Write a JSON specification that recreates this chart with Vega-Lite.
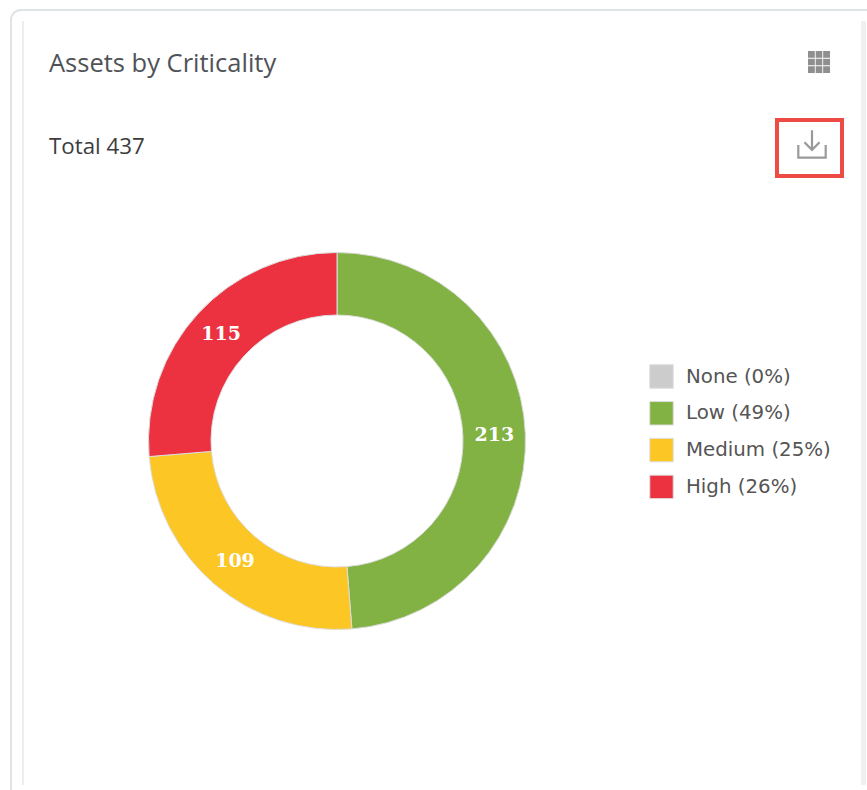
{"$schema":"https://vega.github.io/schema/vega-lite/v6.json","width":867,"height":790,"padding":0,"autosize":{"type":"none"},"background":"#ffffff","view":{"stroke":null},
"title":{"text":"Assets by Criticality","subtitle":"Total 437","anchor":"start","frame":"group","orient":"top","offset":-158,"dx":49,"font":"Open Sans","fontSize":25.5,"fontWeight":"normal","color":"#4f5358","subtitleFont":"Open Sans","subtitleFontSize":22.3,"subtitleFontWeight":"normal","subtitleColor":"#3c3c3c","subtitlePadding":58},
"data":{"values":[{"level":"None","legendLabel":"None (0%)","count":0},{"level":"Low","legendLabel":"Low (49%)","count":213},{"level":"Medium","legendLabel":"Medium (25%)","count":109},{"level":"High","legendLabel":"High (26%)","count":115}]},
"layer":[
{"data":{"values":[{"part":"card"}]},"mark":{"type":"rect","x":11,"y":10,"x2":930,"y2":850,"cornerRadius":10,"fill":"#ffffff","stroke":"#dfe4e6","strokeWidth":2},"encoding":{}},
{"data":{"values":[{"part":"inner-left"}]},"mark":{"type":"rect","x":22,"y":21,"x2":24,"y2":785,"fill":"#eeeeee"},"encoding":{}},
{"data":{"values":[{"part":"inner-right"}]},"mark":{"type":"rect","x":861,"y":21,"x2":866,"y2":785,"fill":"#f0f0f0"},"encoding":{}},
{"data":{"values":[{"part":"grid-icon"}]},"mark":{"type":"point","x":819,"y":62,"filled":true,"fill":"#8f8f8f","stroke":null,"opacity":1,"size":1936,"shape":"M-.5-.5H-.19V-.19H-.5ZM-.15-.5H.15V-.19H-.15ZM.19-.5H.5V-.19H.19ZM-.5-.15H-.19V.15H-.5ZM-.15-.15H.15V.15H-.15ZM.19-.15H.5V.15H.19ZM-.5.19H-.19V.5H-.5ZM-.15.19H.15V.5H-.15ZM.19.19H.5V.5H.19Z"},"encoding":{}},
{"data":{"values":[{"part":"download-box"}]},"mark":{"type":"rect","x":777,"y":120,"x2":842,"y2":176,"fill":"#ffffff","stroke":"#ee4b44","strokeWidth":4},"encoding":{}},
{"data":{"values":[{"part":"download-icon"}]},"mark":{"type":"point","x":812,"y":144,"filled":false,"stroke":"#9a9a9a","strokeWidth":2.2,"opacity":1,"size":3400,"shape":"M-.47 .03V.47H.47V.03M0-.47V.2M-.26-.06L0 .2L.26-.06"},"encoding":{}},
{"mark":{"type":"arc","x":337,"y":441,"radius":188.5,"radius2":126,"stroke":"#dddddd","strokeWidth":1},
"encoding":{"theta":{"field":"count","type":"quantitative","stack":true},"order":{"field":"rank","type":"quantitative"},
"color":{"field":"legendLabel","type":"nominal","sort":null,"scale":{"domain":["None (0%)","Low (49%)","Medium (25%)","High (26%)"],"range":["#cccccc","#82b243","#fcc625","#ec3140"]},
"legend":{"title":null,"orient":"none","legendX":649,"legendY":364,"symbolType":"square","symbolSize":550,"symbolStrokeWidth":1,"symbolStrokeColor":"#dddddd","labelFont":"DejaVu Sans","labelFontSize":19.8,"labelColor":"#555555","labelOffset":12,"rowPadding":7.8,"labelLimit":200}}}},
{"transform":[{"filter":"datum.count > 0"}],"mark":{"type":"text","x":337,"y":441,"radius":157.5,"font":"DejaVu Serif","fontWeight":"bold","fontSize":19,"fill":"#ffffff"},
"encoding":{"theta":{"field":"count","type":"quantitative","stack":true},"order":{"field":"rank","type":"quantitative"},"text":{"field":"count","type":"quantitative"}}}
]}
